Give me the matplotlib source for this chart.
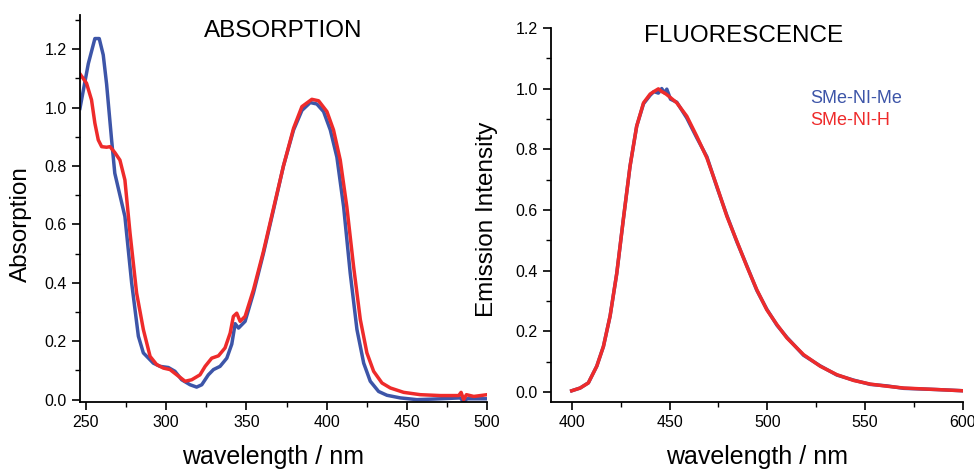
import numpy as np
import matplotlib
matplotlib.use("Agg")
from matplotlib import pyplot as plt
from matplotlib.ticker import MultipleLocator, FormatStrFormatter

# absorption, SMe-NI-Me (blue)
abs_me_x = [246.3, 251.5, 255.6, 258.3, 260.8, 262.9, 266.0, 268.0, 274.3, 278.5, 282.7, 285.8,
            292.0, 296.2, 301.4, 305.5, 309.7, 314.9, 319.0, 322.2, 326.3, 329.5, 333.6, 337.8,
            340.9, 343.0, 345.1, 349.2, 354.4, 360.6, 366.9, 373.1, 379.4, 384.6, 389.8, 393.9,
            398.1, 402.3, 406.4, 410.6, 414.7, 418.9, 423.1, 427.2, 432.4, 437.6, 445.9, 456.3,
            466.7, 483.3, 485.4, 487.5, 500.0]
abs_me_y = [0.997, 1.15, 1.236, 1.236, 1.18, 1.08, 0.89, 0.775, 0.627, 0.40, 0.217, 0.16,
            0.125, 0.114, 0.11, 0.097, 0.068, 0.051, 0.043, 0.051, 0.085, 0.103, 0.114, 0.142,
            0.19, 0.26, 0.245, 0.268, 0.365, 0.50, 0.65, 0.80, 0.923, 0.99, 1.017, 1.012,
            0.986, 0.923, 0.83, 0.66, 0.433, 0.24, 0.125, 0.063, 0.028, 0.015, 0.006, 0.0,
            0.002, 0.006, -0.008, 0.003, 0.003]

# absorption, SMe-NI-H (red)
abs_h_x = [246.3, 250.4, 253.5, 255.6, 257.7, 259.8, 262.9, 265.0, 268.0, 271.2, 274.3, 277.5,
           281.6, 285.8, 290.0, 294.1, 298.3, 302.4, 306.6, 311.8, 315.9, 321.1, 324.3, 328.4,
           332.6, 336.7, 339.9, 341.9, 344.0, 346.1, 349.2, 354.4, 360.6, 366.9, 373.1, 379.4,
           384.6, 390.8, 395.0, 400.2, 404.3, 408.5, 412.6, 416.8, 421.0, 425.1, 429.3, 434.5,
           439.7, 448.0, 458.4, 470.9, 482.3, 483.8, 485.4, 487.1, 491.7, 500.0]
abs_h_y = [1.115, 1.083, 1.026, 0.946, 0.889, 0.866, 0.864, 0.866, 0.846, 0.82, 0.752, 0.57,
           0.365, 0.24, 0.148, 0.12, 0.108, 0.103, 0.085, 0.063, 0.068, 0.085, 0.114, 0.142,
           0.15, 0.177, 0.228, 0.285, 0.296, 0.268, 0.285, 0.376, 0.507, 0.655, 0.80, 0.929,
           1.003, 1.028, 1.023, 0.986, 0.923, 0.82, 0.66, 0.456, 0.274, 0.16, 0.097, 0.057,
           0.04, 0.025, 0.017, 0.014, 0.014, 0.025, 0.0, 0.017, 0.011, 0.017]

# fluorescence (normalised), both compounds almost on top of each other
fl_x = [400.0, 404.3, 408.5, 412.8, 416.2, 419.6, 423.0, 426.4, 429.8, 433.2, 436.7, 440.1,
        442.0, 444.3, 446.0, 447.5, 448.6, 450.5, 453.7, 458.8, 463.9, 469.1, 474.2, 479.3,
        484.4, 489.5, 494.6, 499.7, 504.9, 510.0, 518.5, 527.0, 535.5, 544.1, 552.6, 561.1,
        569.7, 586.7, 600.0]
fl_me_y = [0.004, 0.013, 0.03, 0.085, 0.15, 0.25, 0.39, 0.57, 0.744, 0.876, 0.95, 0.978,
           0.99, 0.985, 1.0, 0.985, 0.998, 0.965, 0.955, 0.903, 0.838, 0.775, 0.675, 0.582,
           0.495, 0.416, 0.335, 0.273, 0.22, 0.18, 0.121, 0.086, 0.056, 0.039, 0.025, 0.02,
           0.012, 0.008, 0.004]
fl_h_y = [0.004, 0.013, 0.03, 0.085, 0.15, 0.25, 0.39, 0.57, 0.744, 0.876, 0.953, 0.982,
          0.99, 0.999, 0.99, 0.985, 0.98, 0.97, 0.953, 0.909, 0.843, 0.771, 0.678, 0.579,
          0.497, 0.414, 0.337, 0.271, 0.222, 0.178, 0.123, 0.085, 0.057, 0.038, 0.026, 0.019,
          0.013, 0.008, 0.004]

blue = "#3d55a8"
red = "#ee2b2b"

plt.rcParams["font.family"] = ["Liberation Sans", "DejaVu Sans"]

fig = plt.figure(figsize=(9.74, 4.7), dpi=100)
ax1 = fig.add_axes([0.0821, 0.1447, 0.418, 0.823])
ax2 = fig.add_axes([0.5657, 0.1447, 0.423, 0.796])


def style(ax):
    for s in ["top", "right"]:
        ax.spines[s].set_visible(False)
    for s in ["left", "bottom"]:
        ax.spines[s].set_linewidth(1.3)
    ax.tick_params(which="major", direction="out", length=6, width=1.2, labelsize=11.5)
    ax.tick_params(which="minor", direction="out", length=3.5, width=1.0)
    ax.xaxis.set_major_locator(MultipleLocator(50))
    ax.xaxis.set_minor_locator(MultipleLocator(25))
    ax.yaxis.set_major_locator(MultipleLocator(0.2))
    ax.yaxis.set_minor_locator(MultipleLocator(0.1))
    ax.yaxis.set_major_formatter(FormatStrFormatter("%.1f"))
    ax.set_xlabel("wavelength / nm", fontsize=18)


ax1.plot(abs_me_x, abs_me_y, color=blue, lw=2.5)
ax1.plot(abs_h_x, abs_h_y, color=red, lw=2.5)
ax1.set_xlim(246.3, 500)
ax1.set_ylim(-0.008, 1.316)
style(ax1)
ax1.set_ylabel("Absorption", fontsize=17.5)
ax1.yaxis.set_label_coords(-0.118, 0.46)
ax1.xaxis.set_label_coords(0.474, -0.112)
ax1.text(0.5, 0.96, "ABSORPTION", transform=ax1.transAxes, ha="center", va="center", fontsize=17.5)

ax2.plot(fl_x, fl_me_y, color=blue, lw=2.5)
ax2.plot(fl_x, fl_h_y, color=red, lw=2.5)
ax2.set_xlim(389.4, 600)
ax2.set_ylim(-0.033, 1.2)
style(ax2)
ax2.set_ylabel("Emission Intensity", fontsize=17.5)
ax2.yaxis.set_label_coords(-0.129, 0.489)
ax2.xaxis.set_label_coords(0.5, -0.116)
ax2.text(0.468, 0.978, "FLUORESCENCE", transform=ax2.transAxes, ha="center", va="center", fontsize=17.5)
ax2.text(0.63, 0.80, "SMe-NI-Me", transform=ax2.transAxes, color=blue, fontsize=13)
ax2.text(0.63, 0.74, "SMe-NI-H", transform=ax2.transAxes, color=red, fontsize=13)

plt.savefig("out.png", dpi=100)
